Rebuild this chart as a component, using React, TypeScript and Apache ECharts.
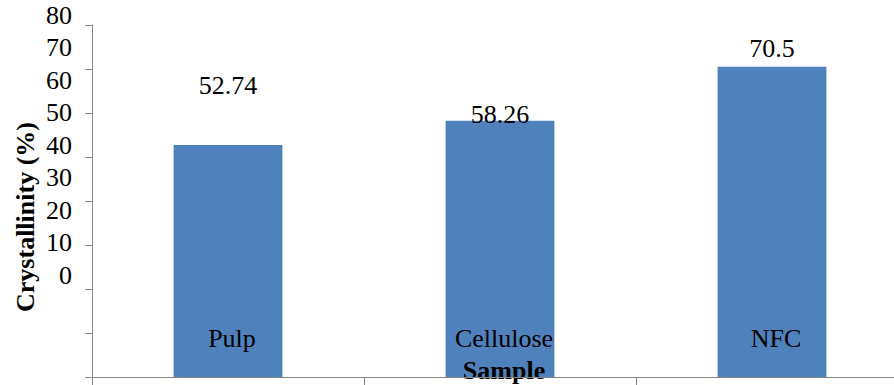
import React, { useEffect, useRef } from "react";
import * as echarts from "echarts";

const categories = ["Pulp", "Cellulose", "NFC"];
const crystallinity = [52.74, 58.26, 70.5];
const yTickMin = 0;
const yTickMax = 80;
const yTickStep = 10;
const yAxisTitle = "Crystallinity (%)";
const xAxisTitle = "Sample";

// label vertical shifts (styling only)
const labelShift = [-41, 12, 0];

const FONT = "Times New Roman, Liberation Serif, DejaVu Serif, serif";
const AXIS_COLOR = "#868686";

export default function App() {
  const ref = useRef<HTMLDivElement>(null);
  useEffect(() => {
    if (!ref.current) return;
    const chart = echarts.init(ref.current, undefined, { renderer: "svg" });
    chart.setOption({
      animation: false,
      backgroundColor: "#ffffff",
      textStyle: { fontFamily: FONT },
      grid: [
        { left: 92, top: 25, bottom: 8, right: -14, containLabel: false, outerBoundsMode: "none" },
        { left: 92, top: 15, height: 260, width: 10, containLabel: false, outerBoundsMode: "none" },
      ],
      xAxis: [
        {
          type: "category",
          gridIndex: 0,
          z: 10,
          data: categories,
          axisLine: { lineStyle: { color: AXIS_COLOR, width: 1 } },
          axisTick: { show: true, length: 8, lineStyle: { color: AXIS_COLOR } },
          axisLabel: {
            margin: -52,
            color: "#000",
            fontFamily: FONT,
            fontSize: 26,
            padding: [0, 0, 0, 8],
          },
          name: xAxisTitle,
          nameLocation: "middle",
          nameGap: -20,
          nameMoveOverlap: false,
          nameTextStyle: {
            color: "#000",
            fontFamily: FONT,
            fontSize: 26,
            fontWeight: "bold",
            padding: [0, 0, 0, 8],
          },
        },
        {
          type: "value",
          gridIndex: 1,
          show: false,
        },
      ],
      yAxis: [
        {
          type: "value",
          gridIndex: 0,
          min: yTickMin,
          max: yTickMax,
          interval: yTickStep,
          axisLine: { show: true, lineStyle: { color: AXIS_COLOR, width: 1 } },
          axisTick: { show: true, inside: false, length: 7, lineStyle: { color: AXIS_COLOR } },
          axisLabel: { show: false },
          splitLine: { show: false },
        },
        {
          type: "value",
          gridIndex: 1,
          min: yTickMin,
          max: yTickMax,
          interval: yTickStep,
          axisLine: { show: false },
          axisTick: { show: false },
          splitLine: { show: false },
          axisLabel: {
            margin: 20,
            color: "#000",
            fontFamily: FONT,
            fontSize: 26,
          },
        },
      ],
      graphic: [
        {
          type: "text",
          x: 25,
          y: 217,
          rotation: Math.PI / 2,
          style: {
            text: yAxisTitle,
            fill: "#000",
            fontFamily: FONT,
            fontSize: 26,
            fontWeight: "bold",
            align: "center",
            verticalAlign: "middle",
          },
        },
      ],
      series: [
        {
          type: "bar",
          xAxisIndex: 0,
          yAxisIndex: 0,
          barWidth: "40%",
          itemStyle: { color: "#4F81BD" },
          data: crystallinity.map((v, i) => ({
            value: v,
            label: { offset: [0, labelShift[i]] },
          })),
          label: {
            show: true,
            position: "top",
            distance: 5,
            color: "#000",
            fontFamily: FONT,
            fontSize: 26,
          },
        },
      ],
    });
    return () => chart.dispose();
  }, []);
  return (
    <div
      ref={ref}
      style={{ position: "fixed", left: 0, top: 0, width: 894, height: 385, background: "#fff" }}
    />
  );
}
